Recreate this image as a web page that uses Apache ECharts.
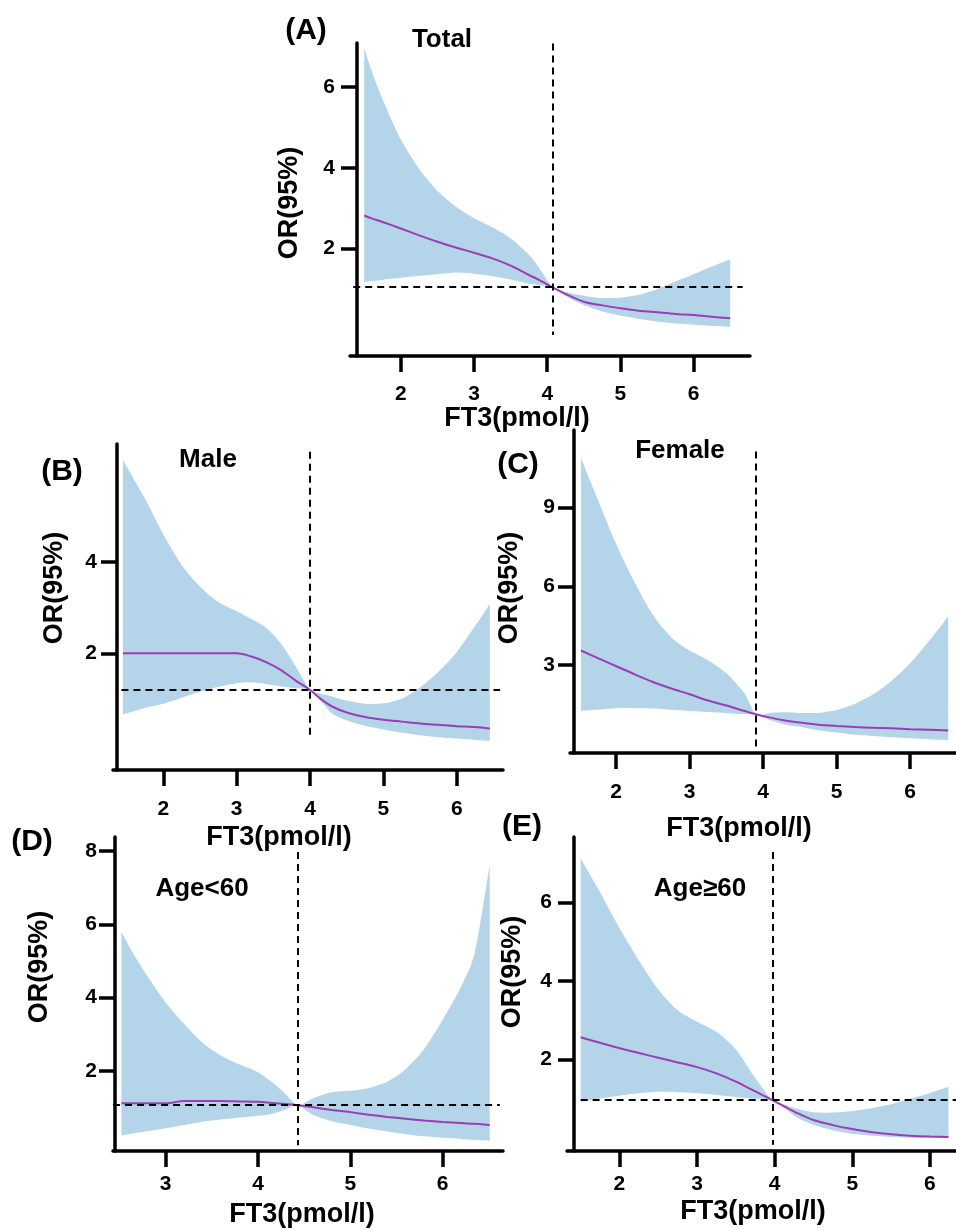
<!DOCTYPE html>
<html>
<head>
<meta charset="utf-8">
<title>FT3 RCS</title>
<script src="https://cdn.jsdelivr.net/npm/echarts@6/dist/echarts.min.js"></script>
<style>
html, body { margin: 0; padding: 0; background: #fff; }
#main { width: 956px; height: 1230px; }
</style>
</head>
<body>
<div id="main"></div>
<script>
// (A) Total
var xA  = [1.5, 1.6, 1.75, 2.0, 2.25, 2.5, 2.75, 3.0, 3.25, 3.5, 3.75, 3.9, 4.08, 4.3, 4.5, 4.75, 5.0, 5.25, 5.5, 5.75, 6.0, 6.25, 6.5];
var orA = [2.82, 2.75, 2.66, 2.50, 2.33, 2.17, 2.03, 1.90, 1.76, 1.58, 1.35, 1.22, 1.04, 0.84, 0.69, 0.60, 0.53, 0.47, 0.43, 0.39, 0.36, 0.32, 0.28];
var hiA = [6.95, 6.40, 5.70, 4.70, 3.97, 3.43, 3.04, 2.75, 2.53, 2.26, 1.85, 1.50, 1.04, 0.91, 0.84, 0.78, 0.79, 0.86, 1.00, 1.19, 1.37, 1.56, 1.74];
var loA = [1.18, 1.20, 1.23, 1.28, 1.33, 1.37, 1.41, 1.38, 1.32, 1.24, 1.14, 1.09, 1.04, 0.78, 0.61, 0.45, 0.35, 0.27, 0.20, 0.15, 0.12, 0.09, 0.07];

// (B) Male
var xB  = [1.45, 1.75, 2.0, 2.25, 2.5, 2.75, 3.0, 3.2, 3.4, 3.6, 3.8, 4.0, 4.15, 4.3, 4.5, 4.75, 5.0, 5.25, 5.5, 5.75, 6.0, 6.25, 6.45];
var orB = [2.0, 2.0, 2.0, 2.0, 2.0, 2.0, 2.0, 1.93, 1.81, 1.64, 1.41, 1.20, 1.00, 0.84, 0.71, 0.61, 0.55, 0.51, 0.47, 0.44, 0.41, 0.39, 0.36];
var hiB = [6.22, 5.38, 4.60, 3.93, 3.46, 3.12, 2.92, 2.75, 2.56, 2.22, 1.73, 1.20, 1.12, 1.06, 0.97, 0.90, 0.91, 1.01, 1.26, 1.60, 2.03, 2.60, 3.08];
var loB = [0.67, 0.81, 0.90, 1.03, 1.16, 1.27, 1.35, 1.37, 1.33, 1.28, 1.24, 1.20, 0.95, 0.69, 0.54, 0.42, 0.34, 0.27, 0.21, 0.17, 0.14, 0.11, 0.09];

// (C) Female
var xC  = [1.52, 1.75, 2.0, 2.25, 2.5, 2.75, 3.0, 3.25, 3.5, 3.75, 3.9, 4.1, 4.3, 4.5, 4.75, 5.0, 5.25, 5.5, 5.75, 6.0, 6.25, 6.52];
var orC = [3.55, 3.26, 2.95, 2.64, 2.35, 2.10, 1.88, 1.64, 1.45, 1.24, 1.12, 0.99, 0.88, 0.80, 0.72, 0.67, 0.63, 0.60, 0.58, 0.55, 0.53, 0.50];
var hiC = [10.9, 9.30, 7.60, 6.15, 4.90, 4.05, 3.55, 3.18, 2.68, 1.90, 1.12, 1.17, 1.19, 1.17, 1.17, 1.28, 1.52, 1.88, 2.40, 3.05, 3.88, 4.85];
var loC = [1.25, 1.30, 1.35, 1.35, 1.34, 1.29, 1.24, 1.20, 1.16, 1.12, 1.12, 0.89, 0.73, 0.64, 0.51, 0.42, 0.34, 0.29, 0.24, 0.20, 0.16, 0.12];

// (D) Age<60
var xD  = [2.52, 2.65, 2.83, 3.0, 3.2, 3.4, 3.6, 3.8, 4.0, 4.15, 4.3, 4.43, 4.6, 4.8, 5.0, 5.2, 5.4, 5.6, 5.8, 6.0, 6.2, 6.35, 6.51];
var orD = [1.12, 1.12, 1.12, 1.12, 1.18, 1.18, 1.18, 1.17, 1.16, 1.13, 1.10, 1.07, 1.01, 0.94, 0.88, 0.81, 0.75, 0.70, 0.65, 0.61, 0.58, 0.56, 0.53];
var hiD = [5.79, 5.20, 4.48, 3.87, 3.28, 2.77, 2.42, 2.18, 1.97, 1.70, 1.37, 1.07, 1.26, 1.42, 1.46, 1.54, 1.71, 2.05, 2.60, 3.40, 4.30, 5.25, 7.61];
var loD = [0.25, 0.30, 0.37, 0.44, 0.53, 0.62, 0.68, 0.73, 0.78, 0.83, 0.95, 1.07, 0.80, 0.63, 0.53, 0.43, 0.35, 0.28, 0.22, 0.18, 0.15, 0.12, 0.10];

// (E) Age>=60
var xE  = [1.5, 1.75, 2.0, 2.25, 2.5, 2.75, 3.0, 3.25, 3.5, 3.75, 3.97, 4.15, 4.3, 4.5, 4.75, 5.0, 5.25, 5.5, 5.75, 6.0, 6.24];
var orE = [2.56, 2.42, 2.28, 2.16, 2.04, 1.92, 1.80, 1.64, 1.43, 1.18, 0.96, 0.77, 0.62, 0.45, 0.32, 0.22, 0.14, 0.09, 0.05, 0.03, 0.02];
var hiE = [7.12, 6.26, 5.35, 4.52, 3.78, 3.25, 2.96, 2.70, 2.25, 1.52, 0.96, 0.83, 0.73, 0.65, 0.64, 0.68, 0.75, 0.85, 0.99, 1.14, 1.30];
var loE = [0.92, 1.00, 1.07, 1.13, 1.17, 1.16, 1.13, 1.09, 1.04, 0.99, 0.96, 0.71, 0.50, 0.33, 0.19, 0.10, 0.05, 0.02, 0.0, 0.0, 0.0];

// 参考线：拐点 FT3 与 OR 参考值
var refX  = [4.08, 4.0, 3.9, 4.43, 3.97];
var refOR = [1.05, 1.2, 1.12, 1.07, 0.96];

// 刻度
var xTicks  = [2, 3, 4, 5, 6];
var xTicksD = [3, 4, 5, 6];
var yTicks  = [2, 4, 6];
var yTicksB = [2, 4];
var yTicksC = [3, 6, 9];
var yTicksD = [2, 4, 6, 8];

var groupNames = ['Total', 'Male', 'Female', 'Age<60', 'Age≥60'];
var panelTags  = ['(A)', '(B)', '(C)', '(D)', '(E)'];

var FONT = 'Arial, "Liberation Sans", sans-serif';
var BAND = '#b4d4ea';
var LINE = '#9b3db5';

var panels = [
    { x: xA, or: orA, hi: hiA, lo: loA, xt: xTicks, yt: yTicks,
      grid: { left: 350, top: 43, width: 400, height: 313 }, yOff: -7,
      xr: [1.306, 6.77], yr: [-0.65, 7.08], h: [1.35, 6.67], v: [7.07, -0.13], mx: 28, my: 22,
      tag: [306, 31], name: [442, 40], xt_pos: [517, 419], yt_pos: [290, 203] },
    { x: xB, or: orB, hi: hiB, lo: loB, xt: xTicks, yt: yTicksB,
      grid: { left: 113, top: 444, width: 390, height: 326 }, yOff: -4,
      xr: [1.315, 6.629], yr: [-0.546, 6.57], h: [1.43, 6.59], v: [6.40, 0.22], mx: 29, my: 20,
      tag: [62, 472], name: [208, 460], xt_pos: [279, 838], yt_pos: [55, 588] },
    { x: xC, or: orC, hi: hiC, lo: loC, xt: xTicks, yt: yTicksC,
      grid: { left: 570, top: 430, width: 386, height: 323 }, yOff: -4,
      xr: [1.371, 6.626], yr: [-0.36, 11.96], h: [1.37, 6.626], v: [11.14, -0.16], mx: 29, my: 19,
      tag: [518, 465], name: [680, 451], xt_pos: [739, 829], yt_pos: [510, 588] },
    { x: xD, or: orD, hi: hiD, lo: loD, xt: xTicksD, yt: yTicksD,
      grid: { left: 113, top: 837, width: 390, height: 314 }, yOff: -2,
      xr: [2.429, 6.654], yr: [-0.18, 8.38], h: [2.43, 6.62], v: [7.97, -0.02], mx: 23, my: 18,
      tag: [32, 842], name: [202, 889], xt_pos: [302, 1215], yt_pos: [40, 967] },
    { x: xE, or: orE, hi: hiE, lo: loE, xt: xTicks, yt: yTicks,
      grid: { left: 567, top: 837, width: 389, height: 314 }, yOff: -7,
      xr: [1.324, 6.337], yr: [-0.34, 7.67], h: [1.50, 6.337], v: [7.29, -0.18], mx: 23, my: 22,
      tag: [522, 827], name: [700, 889], xt_pos: [753, 1212], yt_pos: [513, 972] }
];

var chart = echarts.init(document.getElementById('main'));

function zip(a, b) {
    return a.map(function (v, i) { return [v, b[i]]; });
}

// 平滑路径（Catmull-Rom 转三次贝塞尔），只用于区间边界的绘制
function curveTo(pts, t) {
    var s = '';
    for (var i = 0; i < pts.length - 1; i++) {
        var p0 = pts[Math.max(i - 1, 0)], p1 = pts[i], p2 = pts[i + 1], p3 = pts[Math.min(i + 2, pts.length - 1)];
        var c1x = p1[0] + (p2[0] - p0[0]) * t / 6, c1y = p1[1] + (p2[1] - p0[1]) * t / 6;
        var c2x = p2[0] - (p3[0] - p1[0]) * t / 6, c2y = p2[1] - (p3[1] - p1[1]) * t / 6;
        s += ' C' + c1x + ',' + c1y + ' ' + c2x + ',' + c2y + ' ' + p2[0] + ',' + p2[1];
    }
    return s;
}

var grids = [], xAxes = [], yAxes = [], series = [], texts = [];

panels.forEach(function (p, i) {
    grids.push(p.grid);

    var tickStyle = { show: true, length: 16, lineStyle: { color: '#000', width: 3.5 } };
    var labelStyle = { color: '#000', fontSize: 21, fontWeight: 'bold', fontFamily: FONT };

    xAxes.push({
        type: 'value', gridIndex: i, min: p.xr[0], max: p.xr[1],
        axisLine: { show: true, onZero: false, lineStyle: { color: '#000', width: 3.5 } },
        axisTick: Object.assign({ customValues: p.xt }, tickStyle),
        axisLabel: Object.assign({ customValues: p.xt, margin: p.mx }, labelStyle),
        splitLine: { show: false }
    });
    yAxes.push({
        type: 'value', gridIndex: i, min: p.yr[0], max: p.yr[1], offset: p.yOff,
        axisLine: { show: true, onZero: false, lineStyle: { color: '#000', width: 3.5 } },
        axisTick: Object.assign({ customValues: p.yt }, tickStyle),
        axisLabel: Object.assign({ customValues: p.yt, margin: p.my }, labelStyle),
        splitLine: { show: false }
    });

    // 95%CI 区间
    series.push({
        type: 'custom', xAxisIndex: i, yAxisIndex: i, silent: true, z: 1,
        data: [[p.x[0], p.lo[0]]],
        renderItem: function (params, api) {
            var up = [], down = [];
            for (var k = 0; k < p.x.length; k++) up.push(api.coord([p.x[k], p.hi[k]]));
            for (var j = p.x.length - 1; j >= 0; j--) down.push(api.coord([p.x[j], p.lo[j]]));
            var d = 'M' + up[0][0] + ',' + up[0][1] + curveTo(up, 0.8) +
                    ' L' + down[0][0] + ',' + down[0][1] + curveTo(down, 0.8) + ' Z';
            return { type: 'path', shape: { pathData: d }, style: { fill: BAND } };
        }
    });

    // OR 曲线 + 参考线
    series.push({
        type: 'line', xAxisIndex: i, yAxisIndex: i, z: 3,
        data: zip(p.x, p.or), showSymbol: false, smooth: 0.3,
        lineStyle: { color: LINE, width: 2 },
        markLine: {
            silent: true, symbol: 'none', label: { show: false },
            lineStyle: { color: '#000', type: [7, 5], width: 2 },
            data: [
                [{ coord: [p.h[0], refOR[i]] }, { coord: [p.h[1], refOR[i]] }],
                [{ coord: [refX[i], p.v[0]] }, { coord: [refX[i], p.v[1]] }]
            ]
        }
    });

    texts.push({ type: 'text', x: p.tag[0], y: p.tag[1],
        style: { text: panelTags[i], fontSize: 30, fontWeight: 'bold', fontFamily: FONT, fill: '#000', align: 'center', verticalAlign: 'middle' } });
    texts.push({ type: 'text', x: p.name[0], y: p.name[1],
        style: { text: groupNames[i], fontSize: 26, fontWeight: 'bold', fontFamily: FONT, fill: '#000', align: 'center', verticalAlign: 'middle' } });
    texts.push({ type: 'text', x: p.xt_pos[0], y: p.xt_pos[1],
        style: { text: 'FT3(pmol/l)', fontSize: 27, fontWeight: 'bold', fontFamily: FONT, fill: '#000', align: 'center', verticalAlign: 'middle' } });
    texts.push({ type: 'text', x: p.yt_pos[0], y: p.yt_pos[1], rotation: Math.PI / 2,
        style: { text: 'OR(95%)', fontSize: 27, fontWeight: 'bold', fontFamily: FONT, fill: '#000', align: 'center', verticalAlign: 'middle' } });
});

chart.setOption({
    animation: false,
    backgroundColor: '#fff',
    grid: grids,
    xAxis: xAxes,
    yAxis: yAxes,
    series: series,
    graphic: texts
});
</script>
</body>
</html>
